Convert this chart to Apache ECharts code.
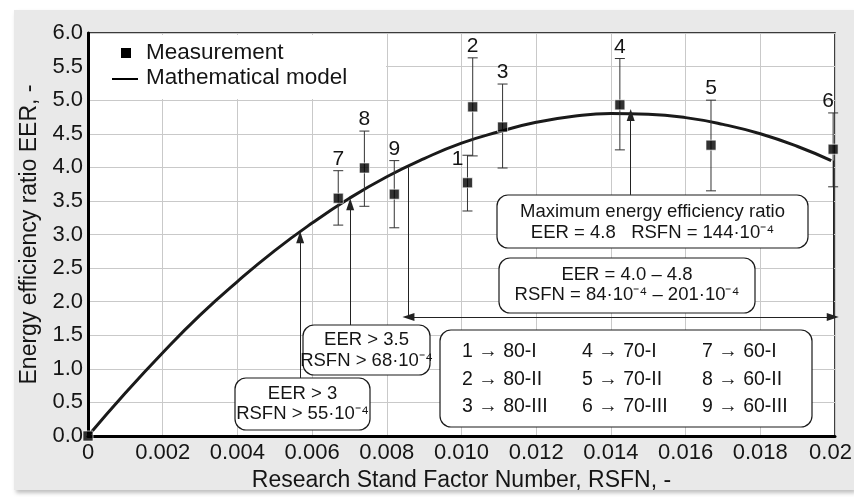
<!DOCTYPE html>
<html>
<head>
<meta charset="utf-8">
<script src="https://cdn.jsdelivr.net/npm/echarts@6/dist/echarts.min.js"></script>
<style>
  html, body { margin: 0; padding: 0; background: #ffffff; }
  #wrap { position: relative; width: 854px; height: 497px; background: #ffffff; overflow: hidden; }
  #chart { position: absolute; left: 14px; top: 10px; width: 840px; height: 480px; background: #e9e9e9;
           box-shadow: 2px 3px 4px rgba(0,0,0,0.25); }
</style>
</head>
<body>
<div id="wrap"><div id="chart"></div></div>
<script>
// ---------------- DATA ----------------
const pointIds  = ['1', '2', '3', '4', '5', '6', '7', '8', '9'];
const rsfn      = [0.01016, 0.0103, 0.0111, 0.01424, 0.01668, 0.01995, 0.0067, 0.0074, 0.0082];
const eer       = [3.77, 4.90, 4.60, 4.93, 4.33, 4.27, 3.54, 3.99, 3.60];
const eerLow    = [3.35, 4.17, 3.99, 4.26, 3.65, 3.71, 3.14, 3.42, 3.10];
const eerHigh   = [4.18, 5.63, 5.24, 5.62, 5.00, 4.81, 3.95, 4.54, 4.10];
const originPoint = [0, 0];

const modelX = [0, 0.001, 0.002, 0.003, 0.004, 0.005, 0.006, 0.007, 0.008, 0.009, 0.010,
                0.011, 0.012, 0.013, 0.014, 0.015, 0.016, 0.017, 0.018, 0.019, 0.0199];
const modelY = [0, 0.64, 1.24, 1.80, 2.30, 2.76, 3.17, 3.54, 3.86, 4.13, 4.36,
                4.53, 4.67, 4.76, 4.80, 4.79, 4.74, 4.64, 4.50, 4.31, 4.10];

const xTickLabels = ['0', '0.002', '0.004', '0.006', '0.008', '0.010', '0.012', '0.014', '0.016', '0.018', '0.02'];
const yTickLabels = ['0.0', '0.5', '1.0', '1.5', '2.0', '2.5', '3.0', '3.5', '4.0', '4.5', '5.0', '5.5', '6.0'];

const seriesNames = ['Measurement', 'Mathematical model'];
const xAxisTitle = 'Research Stand Factor Number, RSFN, -';
const yAxisTitle = 'Energy efficiency ratio EER, -';

// annotation arrows (data coordinates)
const arrowEER3   = [[0.00568, 0.86], [0.00568, 2.96]];
const arrowEER35  = [[0.00702, 1.65], [0.00702, 3.45]];
const arrowMax    = [[0.01453, 3.59], [0.01453, 4.78]];
const rangeLeft   = [[0.00858, 4.00], [0.00858, 1.77]];
const rangeRight  = [[0.01994, 4.10], [0.01994, 1.77]];
const rangeArrow  = [[0.00858, 1.77], [0.01994, 1.77]];

const boxEER3Text  = ['EER > 3', 'RSFN > 55\u00B710\u207B\u2074'];
const boxEER35Text = ['EER > 3.5', 'RSFN > 68\u00B710\u207B\u2074'];
const boxRangeText = ['EER = 4.0 \u2013 4.8', 'RSFN = 84\u00B710\u207B\u2074 \u2013 201\u00B710\u207B\u2074'];
const boxMaxText   = ['Maximum energy efficiency ratio', 'EER = 4.8   RSFN = 144\u00B710\u207B\u2074'];
const mapping = [
  ['1 \u2192 80-I',   '2 \u2192 80-II',  '3 \u2192 80-III'],
  ['4 \u2192 70-I',   '5 \u2192 70-II',  '6 \u2192 70-III'],
  ['7 \u2192 60-I',   '8 \u2192 60-II',  '9 \u2192 60-III']
];

// ---------------- CHART ----------------
const FONT = "'Liberation Sans', Arial, sans-serif";
const TXT = '#151515';
const chart = echarts.init(document.getElementById('chart'), null, { renderer: 'canvas' });

const measData = [originPoint].concat(rsfn.map((x, i) => [x, eer[i]]));
const errData = rsfn.map((x, i) => [x, eerLow[i], eerHigh[i], pointIds[i]]);
const modelData = modelX.map((x, i) => [x, modelY[i]]);

function seg(p, q, sym) {
  return [{ coord: p, symbol: sym[0] }, { coord: q, symbol: sym[1] }];
}

function box(x, y, w, h) {
  return { type: 'rect', z: 50, shape: { x, y, width: w, height: h, r: 11 },
           style: { fill: '#fff', stroke: '#1a1a1a', lineWidth: 1.2 } };
}
function txt(x, y, s, size, align) {
  return { type: 'text', z: 51, x, y,
           style: { text: s, fill: TXT, font: size + 'px ' + FONT, align: align || 'center', verticalAlign: 'middle' } };
}

const graphics = [
  // white area behind legend (grid lines hidden there)
  { type: 'rect', z: 1, shape: { x: 76, y: 25, width: 296, height: 64 }, style: { fill: '#fff' } },
  // legend
  { type: 'rect', z: 51, shape: { x: 107, y: 38, width: 10, height: 10 }, style: { fill: '#000' } },
  txt(132, 43, seriesNames[0], 22.5, 'left'),
  { type: 'line', z: 51, shape: { x1: 98, y1: 69, x2: 124, y2: 69 }, style: { stroke: '#000', lineWidth: 2 } },
  txt(132, 68, seriesNames[1], 22.5, 'left'),
  // boxes
  box(221, 368, 135, 52), txt(288.5, 384, boxEER3Text[0], 18.5), txt(288.5, 404, boxEER3Text[1], 18.5),
  box(289, 315, 127, 50), txt(352.5, 330, boxEER35Text[0], 18.5), txt(352.5, 351, boxEER35Text[1], 18.5),
  box(485, 248, 256, 55), txt(613, 265, boxRangeText[0], 18.5), txt(613, 285, boxRangeText[1], 18.5),
  box(483, 185, 311, 53), txt(638.5, 202, boxMaxText[0], 18.5), txt(638.5, 223, boxMaxText[1], 18.5),
  box(426, 320, 372, 97)
];
const colX = [448, 568, 688];
const rowY = [342, 370, 397];
mapping.forEach((col, ci) => col.forEach((s, ri) => graphics.push(txt(colX[ci], rowY[ri], s, 19.5, 'left'))));

const option = {
  animation: false,
  backgroundColor: '#e9e9e9',
  textStyle: { fontFamily: FONT },
  grid: { left: 74, right: 19, top: 23, bottom: 54, show: true, backgroundColor: '#fff',
          borderColor: '#000', borderWidth: 1.5, containLabel: false, outerBoundsMode: 'none' },
  xAxis: {
    type: 'value', min: 0, max: 0.02, interval: 0.002,
    name: xAxisTitle, nameLocation: 'middle', nameGap: 27,
    nameTextStyle: { fontSize: 23, color: TXT, fontFamily: FONT },
    axisLine: { show: true, onZero: false, lineStyle: { color: '#000', width: 3 } },
    axisTick: { show: false },
    axisLabel: { fontSize: 22, color: TXT, margin: 6, fontFamily: FONT, showMinLabel: true, showMaxLabel: true,
                 formatter: v => {
                   const i = Math.round(v / 0.002);
                   return i === xTickLabels.length - 1 ? '{last|' + xTickLabels[i] + '}' : xTickLabels[i];
                 },
                 rich: { last: { fontSize: 22, color: TXT, fontFamily: FONT, padding: [0, 9, 0, 0] } } },
    splitLine: { show: true, lineStyle: { color: '#c9c9c9', width: 1 } }
  },
  yAxis: {
    type: 'value', min: 0, max: 6, interval: 0.5,
    name: yAxisTitle, nameLocation: 'middle', nameGap: 35,
    nameTextStyle: { fontSize: 23, color: TXT, fontFamily: FONT },
    axisLine: { show: true, onZero: false, lineStyle: { color: '#000', width: 3 } },
    axisTick: { show: false },
    axisLabel: { fontSize: 22, color: TXT, margin: 5, fontFamily: FONT, showMinLabel: true, showMaxLabel: true,
                 formatter: v => yTickLabels[Math.round(v / 0.5)] },
    splitLine: { show: true, lineStyle: { color: '#c9c9c9', width: 1 } }
  },
  series: [
    {
      name: seriesNames[1], type: 'line', data: modelData, smooth: true, showSymbol: false, symbol: 'none',
      lineStyle: { color: '#1a1a1a', width: 3 }, z: 3, silent: true,
      markLine: {
        silent: true, symbol: ['none', 'triangle'], symbolSize: [8, 12], precision: 6,
        label: { show: false },
        lineStyle: { color: '#222', width: 1, type: 'solid' },
        emphasis: { disabled: true },
        data: [
          seg(arrowEER3[0], arrowEER3[1], ['none', 'triangle']),
          seg(arrowEER35[0], arrowEER35[1], ['none', 'triangle']),
          seg(arrowMax[0], arrowMax[1], ['none', 'triangle']),
          seg(rangeLeft[0], rangeLeft[1], ['none', 'none']),
          seg(rangeRight[0], rangeRight[1], ['none', 'none']),
          seg(rangeArrow[0], rangeArrow[1], ['triangle', 'triangle'])
        ]
      }
    },
    {
      name: 'errors', type: 'custom', z: 4, silent: true, data: errData,
      renderItem: function (params, api) {
        const x = api.value(0), lo = api.value(1), hi = api.value(2);
        const id = errData[params.dataIndex][3];
        const pLo = api.coord([x, lo]), pHi = api.coord([x, hi]);
        const c = 5;
        const st = { stroke: '#333', lineWidth: 1 };
        let label;
        if (id === '1') {
          label = { type: 'text', x: pHi[0] - 4, y: pHi[1] + 4,
                    style: { text: id, fill: TXT, font: '21px ' + FONT, align: 'right', verticalAlign: 'middle' } };
        } else {
          label = { type: 'text', x: pHi[0] - (id === '6' ? 5 : 0), y: pHi[1] - 1,
                    style: { text: id, fill: TXT, font: '21px ' + FONT, align: 'center', verticalAlign: 'bottom' } };
        }
        return { type: 'group', children: [
          { type: 'line', shape: { x1: pLo[0], y1: pLo[1], x2: pHi[0], y2: pHi[1] }, style: st },
          { type: 'line', shape: { x1: pLo[0] - c, y1: pLo[1], x2: pLo[0] + c, y2: pLo[1] }, style: st },
          { type: 'line', shape: { x1: pHi[0] - c, y1: pHi[1], x2: pHi[0] + c, y2: pHi[1] }, style: st },
          label
        ] };
      }
    },
    {
      name: seriesNames[0], type: 'scatter', data: measData, symbol: 'rect', symbolSize: 10,
      itemStyle: { color: '#000', borderColor: '#fff', borderWidth: 0.8 }, z: 6, silent: true
    }
  ],
  graphic: graphics
};
chart.setOption(option);
</script>
</body>
</html>
